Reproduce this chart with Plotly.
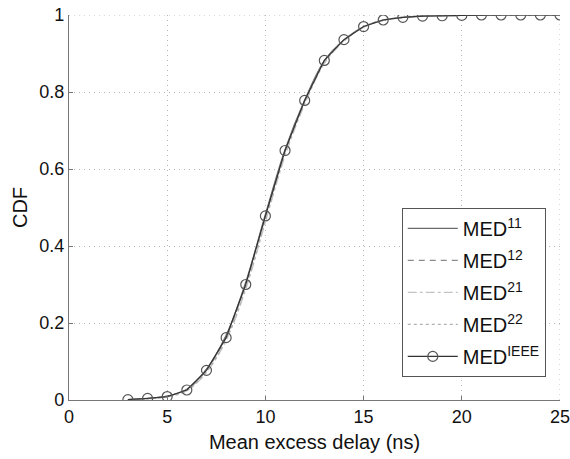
import plotly.graph_objects as go

x = [3, 4, 5, 6, 7, 8, 9, 10, 11, 12, 13, 14, 15, 16, 17, 18, 19, 20, 21, 22, 23, 24, 25]
med_ieee = [0.001, 0.004, 0.009, 0.026, 0.077, 0.162, 0.300, 0.478, 0.648, 0.778, 0.882, 0.936, 0.970, 0.987, 0.994, 0.997, 0.998, 0.999, 1.0, 1.0, 1.0, 1.0, 1.0]
med_11 = [0.001, 0.004, 0.010, 0.028, 0.080, 0.168, 0.306, 0.482, 0.650, 0.779, 0.881, 0.935, 0.969, 0.987, 0.994, 0.997, 0.998, 0.999, 1.0, 1.0, 1.0, 1.0, 1.0]
med_12 = [0.001, 0.004, 0.010, 0.027, 0.078, 0.164, 0.302, 0.476, 0.646, 0.776, 0.880, 0.935, 0.969, 0.986, 0.994, 0.997, 0.998, 0.999, 1.0, 1.0, 1.0, 1.0, 1.0]
med_21 = [0.001, 0.003, 0.008, 0.024, 0.072, 0.155, 0.288, 0.462, 0.634, 0.768, 0.874, 0.932, 0.968, 0.986, 0.993, 0.997, 0.998, 0.999, 1.0, 1.0, 1.0, 1.0, 1.0]
med_22 = [0.001, 0.003, 0.009, 0.025, 0.074, 0.158, 0.293, 0.468, 0.640, 0.772, 0.877, 0.934, 0.969, 0.986, 0.994, 0.997, 0.998, 0.999, 1.0, 1.0, 1.0, 1.0, 1.0]

x_ticks = [0, 5, 10, 15, 20, 25]
y_ticks = [0, 0.2, 0.4, 0.6, 0.8, 1]
y_tick_labels = ["0", "0.2", "0.4", "0.6", "0.8", "1"]

FONT = "Liberation Sans, Arial, Helvetica, sans-serif"
GRID = dict(color="#b5b5b5", width=1, dash="1px,4px")

fig = go.Figure()
fig.add_trace(go.Scatter(x=x, y=med_11, mode="lines", name="MED<sup>11</sup>", legendgroup="a",
                         line=dict(color="#6a6a6a", width=1.3, dash="solid", shape="spline")))
fig.add_trace(go.Scatter(x=x, y=med_12, mode="lines", name="MED<sup>12</sup>", legendgroup="b",
                         line=dict(color="#8a8a8a", width=1.3, dash="6px,5px", shape="spline")))
fig.add_trace(go.Scatter(x=x, y=med_21, mode="lines", name="MED<sup>21</sup>", legendgroup="c",
                         line=dict(color="#c4c4c4", width=1.3, dash="dashdot", shape="spline")))
fig.add_trace(go.Scatter(x=x, y=med_22, mode="lines", name="MED<sup>22</sup>", legendgroup="d",
                         line=dict(color="#b0b0b0", width=1.3, dash="dot", shape="spline")))
fig.add_trace(go.Scatter(x=x, y=med_ieee, mode="lines+markers", name="MED<sup>IEEE</sup>", legendgroup="e",
                         line=dict(color="#333333", width=1.2),
                         marker=dict(symbol="circle-open", size=10, color="#555555",
                                     line=dict(width=1.2, color="#555555"))))

# dotted grid lines along the top and right edges (MATLAB grid on)
fig.add_shape(type="line", xref="paper", yref="y", x0=0, x1=1, y0=y_ticks[-1], y1=y_ticks[-1],
              line=GRID, layer="below")
fig.add_shape(type="line", xref="x", yref="paper", x0=x_ticks[-1], x1=x_ticks[-1], y0=0, y1=1,
              line=GRID, layer="below")

fig.update_layout(
    width=570, height=459,
    margin=dict(l=69, r=10, t=15, b=59),
    paper_bgcolor="white", plot_bgcolor="white",
    font=dict(family=FONT, size=17, color="#111111"),
    showlegend=True,
    legend=dict(x=0.971, y=0.06, xanchor="right", yanchor="bottom",
                bgcolor="white", bordercolor="#555555", borderwidth=1,
                font=dict(size=20), itemwidth=50, traceorder="grouped", tracegroupgap=3),
    xaxis=dict(range=[0, 25], tickvals=x_ticks, ticks="inside", ticklen=4,
               tickcolor="#777777", showline=True, linecolor="#777777", linewidth=1.2,
               showgrid=True, gridcolor="#b5b5b5", griddash="1px,4px", gridwidth=1,
               zeroline=False, automargin=False, ticklabeloverflow="allow",
               title=dict(text="Mean excess delay (ns)", standoff=9),
               tickfont=dict(size=18)),
    yaxis=dict(range=[0, 1], tickvals=y_ticks, ticktext=y_tick_labels, ticks="inside",
               ticklen=4, tickcolor="#777777", showline=True, linecolor="#777777",
               linewidth=1.2, showgrid=True, gridcolor="#b5b5b5", griddash="1px,4px",
               gridwidth=1, zeroline=False, automargin=False, ticklabeloverflow="allow",
               title=dict(text="CDF", standoff=6),
               tickfont=dict(size=18)),
)

fig.write_html("out.html", config={"displayModeBar": False},
               post_script="document.body.style.margin='0';")
